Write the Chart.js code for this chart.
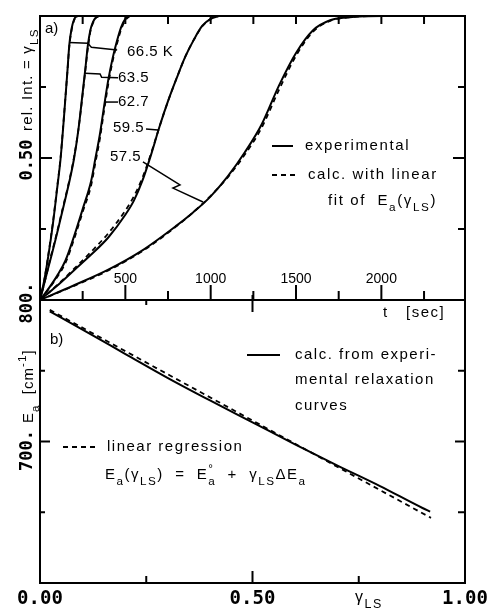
<!DOCTYPE html>
<html lang="en">
<head>
<meta charset="UTF-8">
<title>LS relaxation and activation energy</title>
<script src="https://cdn.jsdelivr.net/npm/chart.js"></script>
<style>
    body { margin: 0; background: #fff; }
    .wrap { position: relative; width: 490px; height: 614px; }
    .wrap canvas { position: absolute; left: 0; top: 0; }
</style>
</head>
<body>
<div class="wrap">
    <canvas id="relax" width="490" height="614"></canvas>
    <canvas id="energy" width="490" height="614"></canvas>
</div>
<script>
// a) relaxation curves, rel. intensity = gamma_LS vs time [sec]
const t665 = [0, 25, 50, 75, 100, 121, 140, 160, 172, 185, 198, 212, 230];
const v665 = [0, 0.07, 0.16, 0.265, 0.39, 0.5, 0.64, 0.80, 0.90, 0.955, 0.985, 0.998, 1.0];
const c665 = [0, 0.07, 0.165, 0.27, 0.395, 0.505, 0.645, 0.80, 0.895, 0.95, 0.982, 0.997, 1.0];

const t635 = [0, 30, 60, 90, 120, 150, 175, 200, 225, 250, 265, 280, 295, 310, 325, 345];
const v635 = [0, 0.07, 0.14, 0.21, 0.285, 0.36, 0.425, 0.5, 0.6, 0.73, 0.81, 0.895, 0.95, 0.978, 0.993, 1.0];
const c635 = [0, 0.07, 0.145, 0.215, 0.29, 0.365, 0.43, 0.505, 0.6, 0.725, 0.805, 0.885, 0.945, 0.975, 0.992, 1.0];

const t627 = [0, 50, 100, 150, 200, 250, 300, 325, 350, 375, 400, 425, 450, 475, 500, 525];
const v627 = [0, 0.04, 0.085, 0.14, 0.225, 0.32, 0.42, 0.5, 0.58, 0.68, 0.775, 0.85, 0.91, 0.96, 0.99, 1.0];
const c627 = [0, 0.038, 0.08, 0.132, 0.215, 0.31, 0.405, 0.485, 0.565, 0.665, 0.76, 0.84, 0.9, 0.952, 0.985, 1.0];

const t595 = [0, 100, 200, 300, 400, 500, 550, 600, 650, 700, 750, 800, 850, 900, 950, 1000, 1050];
const v595 = [0, 0.05, 0.105, 0.16, 0.22, 0.30, 0.35, 0.42, 0.51, 0.61, 0.70, 0.78, 0.855, 0.915, 0.965, 0.99, 1.0];
const c595 = [0, 0.052, 0.11, 0.17, 0.235, 0.315, 0.365, 0.43, 0.515, 0.61, 0.70, 0.78, 0.855, 0.915, 0.963, 0.99, 1.0];

const t575 = [0, 200, 400, 600, 800, 900, 1000, 1100, 1200, 1300, 1400, 1500, 1600, 1700, 1800, 1900, 2050];
const v575 = [0, 0.052, 0.107, 0.175, 0.262, 0.31, 0.365, 0.435, 0.52, 0.62, 0.755, 0.87, 0.95, 0.985, 0.995, 0.999, 1.0];
const c575 = [0, 0.05, 0.104, 0.172, 0.26, 0.31, 0.367, 0.432, 0.512, 0.608, 0.74, 0.86, 0.945, 0.983, 0.995, 0.999, 1.0];

const tempLabels = ['66.5 K', '63.5', '62.7', '59.5', '57.5'];
const tTicks = [250, 500, 750, 1000, 1250, 1500, 1750, 2000, 2250];
const tLabelValues = [500, 1000, 1500, 2000];
const vTicks = [0.25, 0.5, 0.75];

// b) activation energy E_a [cm^-1] vs gamma_LS
const gammaCalc = [0.023, 0.1, 0.2, 0.3, 0.4, 0.5, 0.6, 0.7, 0.8, 0.9, 0.918];
const eaCalc = [792, 779, 762, 745, 729, 713.5, 698, 683, 668.5, 653, 650.5];
const gammaFit = [0.023, 0.92];
const eaFit = [793, 646];

const gTicks = [0.25, 0.5, 0.75];
const gLabelValues = [0, 0.5, 1];
const gLabels = ['0.00', '0.50', '1.00'];
const eTicks = [650, 700, 750];
const eLabelValues = [800, 700];
const eLabels = ['800.', '700.'];

const SANS = '"Liberation Sans", Arial, sans-serif';
const MONO = '"DejaVu Sans Mono", monospace';

function pts(xs, ys) { return xs.map((x, i) => ({ x: x, y: ys[i] })); }

function line(xs, ys, dashed) {
    return {
        data: pts(xs, ys),
        showLine: true,
        borderColor: '#000',
        borderWidth: dashed ? 1.8 : 2,
        borderDash: dashed ? [5, 4] : [],
        pointRadius: 0,
        cubicInterpolationMode: 'monotone'
    };
}

// text with sub/superscripts: parts = [text, mode, noAdvance], mode 0 normal, 1 sub, 2 sup
function rich(ctx, parts, x, y, size) {
    let cx = x;
    parts.forEach(p => {
        const s = p[1] ? size * 0.78 : size;
        ctx.font = s + 'px ' + SANS;
        const dy = p[1] === 1 ? size * 0.42 : p[1] === 2 ? -size * 0.42 : 0;
        ctx.fillText(p[0], cx, y + dy);
        if (!p[2]) cx += ctx.measureText(p[0]).width;
    });
    return cx - x;
}

function rotated(ctx, x, y, fn) {
    ctx.save();
    ctx.translate(x, y);
    ctx.rotate(-Math.PI / 2);
    fn();
    ctx.restore();
}

function seg(ctx, x1, y1, x2, y2) {
    ctx.beginPath(); ctx.moveTo(x1, y1); ctx.lineTo(x2, y2); ctx.stroke();
}

function path(ctx, sx, sy, list) {
    ctx.beginPath();
    list.forEach((p, i) => {
        const px = sx.getPixelForValue(p[0]), py = sy.getPixelForValue(p[1]);
        if (i === 0) ctx.moveTo(px, py); else ctx.lineTo(px, py);
    });
    ctx.stroke();
}

const relaxDecor = {
    id: 'relaxDecor',
    afterDraw(chart) {
        const ctx = chart.ctx, a = chart.chartArea;
        const sx = chart.scales.x, sy = chart.scales.y;
        ctx.save();
        ctx.strokeStyle = '#000'; ctx.fillStyle = '#000'; ctx.lineWidth = 2;
        ctx.strokeRect(a.left, a.top, a.right - a.left, a.bottom - a.top);

        tTicks.forEach(t => {
            const x = sx.getPixelForValue(t);
            seg(ctx, x, a.bottom, x, a.bottom - (t % 500 ? 9 : 15));
            seg(ctx, x, a.top, x, a.top + 8);
        });
        vTicks.forEach(v => {
            const y = sy.getPixelForValue(v);
            const len = v === 0.5 ? 12 : 6;
            seg(ctx, a.left, y, a.left + len, y);
            seg(ctx, a.right, y, a.right - (v === 0.5 ? 12 : 7), y);
        });

        ctx.textAlign = 'center'; ctx.textBaseline = 'middle';
        ctx.font = '14px ' + SANS;
        tLabelValues.forEach(t => ctx.fillText(String(t), sx.getPixelForValue(t), a.bottom - 21));

        // y axis texts
        rotated(ctx, 28, sy.getPixelForValue(0.5) + 2, () => {
            ctx.font = 'bold 17px ' + MONO;
            ctx.textAlign = 'center';
            ctx.fillText('0.50', 0, 0);
        });
        rotated(ctx, 28, 131, () => {
            ctx.textAlign = 'left';
            ctx.letterSpacing = '1.2px';
            rich(ctx, [['rel. Int. = γ', 0], ['LS', 1]], 0, 0, 15);
            ctx.letterSpacing = '0px';
        });

        ctx.textAlign = 'left';
        ctx.font = '15px ' + SANS;
        ctx.fillText('a)', a.left + 5, a.top + 13);

        // temperature labels with leaders
        ctx.lineWidth = 1.5;
        path(ctx, sx, sy, [[170, 0.907], [281, 0.904], [293, 0.895], [301, 0.89], [452, 0.88]]);
        path(ctx, sx, sy, [[264, 0.798], [352, 0.796], [361, 0.784], [457, 0.783]]);
        path(ctx, sx, sy, [[381, 0.697], [457, 0.697]]);
        path(ctx, sx, sy, [[621, 0.602], [691, 0.599]]);
        path(ctx, sx, sy, [[603, 0.486], [820, 0.405], [779, 0.394], [955, 0.345]]);

        ctx.font = '15px ' + SANS;
        ctx.letterSpacing = '0.5px';
        ctx.fillText(tempLabels[0], 127, 52);
        ctx.fillText(tempLabels[1], 118, 78);
        ctx.fillText(tempLabels[2], 118, 102);
        ctx.fillText(tempLabels[3], 113, 128);
        ctx.fillText(tempLabels[4], 110, 157);

        // legend
        ctx.lineWidth = 2;
        seg(ctx, 272, 146, 293, 146);
        ctx.setLineDash([5, 4]);
        seg(ctx, 272, 175, 298, 175);
        ctx.setLineDash([]);
        ctx.letterSpacing = '1.6px';
        ctx.font = '15px ' + SANS;
        ctx.fillText('experimental', 305, 146);
        ctx.fillText('calc. with linear', 308, 175);
        rich(ctx, [['fit of  E', 0], ['a', 1], ['(γ', 0], ['LS', 1], [')', 0]], 328, 201, 15);
        ctx.letterSpacing = '0px';
        ctx.restore();
    }
};

const energyDecor = {
    id: 'energyDecor',
    afterDraw(chart) {
        const ctx = chart.ctx, a = chart.chartArea;
        const sx = chart.scales.x, sy = chart.scales.y;
        ctx.save();
        ctx.strokeStyle = '#000'; ctx.fillStyle = '#000'; ctx.lineWidth = 2;
        ctx.strokeRect(a.left, a.top, a.right - a.left, a.bottom - a.top);

        gTicks.forEach(g => {
            const x = sx.getPixelForValue(g);
            seg(ctx, x, a.bottom, x, a.bottom - (g === 0.5 ? 12 : 7));
        });
        seg(ctx, sx.getPixelForValue(0.25), a.top, sx.getPixelForValue(0.25), a.top + 5);
        seg(ctx, sx.getPixelForValue(0.5), a.top - 5, sx.getPixelForValue(0.5), a.top + 12);
        eTicks.forEach(e => {
            const y = sy.getPixelForValue(e);
            seg(ctx, a.left, y, a.left + (e === 700 ? 10 : 5), y);
            seg(ctx, a.right, y, a.right - (e === 700 ? 10 : 7), y);
        });

        ctx.textBaseline = 'middle'; ctx.textAlign = 'center';
        ctx.font = 'bold 19px ' + MONO;
        gLabelValues.forEach((g, i) => ctx.fillText(gLabels[i], sx.getPixelForValue(g), a.bottom + 16));

        rotated(ctx, 28, sy.getPixelForValue(eLabelValues[0]) + 3, () => {
            ctx.font = 'bold 17px ' + MONO; ctx.textAlign = 'center';
            ctx.fillText(eLabels[0], 0, 0);
        });
        rotated(ctx, 28, sy.getPixelForValue(eLabelValues[1]) + 9, () => {
            ctx.font = 'bold 17px ' + MONO; ctx.textAlign = 'center';
            ctx.fillText(eLabels[1], 0, 0);
        });
        rotated(ctx, 29, 423, () => {
            ctx.textAlign = 'left';
            ctx.letterSpacing = '1px';
            rich(ctx, [['E', 0], ['a', 1], ['  [cm', 0], ['-1', 2], [']', 0]], 0, 0, 15);
            ctx.letterSpacing = '0px';
        });

        ctx.textAlign = 'left';
        ctx.font = '15px ' + SANS;
        ctx.fillText('b)', a.left + 10, 340);

        // t [sec] label of panel a axis
        ctx.letterSpacing = '1.5px';
        ctx.fillText('t', 383, 313);
        ctx.fillText('[sec]', 406, 313);

        // legend
        seg(ctx, 247, 355, 280, 355);
        ctx.setLineDash([5, 4]);
        seg(ctx, 63, 447, 96, 447);
        ctx.setLineDash([]);
        ctx.fillText('calc. from experi-', 295, 355);
        ctx.fillText('mental relaxation', 295, 380);
        ctx.fillText('curves', 295, 406);
        ctx.fillText('linear regression', 107, 447);
        rich(ctx, [['E', 0], ['a', 1], ['(γ', 0], ['LS', 1], [')  =  E', 0], ['°', 2, true], ['a', 1],
                   ['  +  γ', 0], ['LS', 1], ['ΔE', 0], ['a', 1]], 105, 475, 15);
        rich(ctx, [['γ', 0], ['LS', 1]], 355, 598, 16);
        ctx.letterSpacing = '0px';
        ctx.restore();
    }
};

const common = {
    responsive: false,
    animation: false,
    devicePixelRatio: 1,
    plugins: { legend: { display: false }, tooltip: { enabled: false } }
};

new Chart(document.getElementById('relax'), {
    type: 'scatter',
    data: {
        datasets: [
            line(t665, c665, true), line(t635, c635, true), line(t627, c627, true),
            line(t595, c595, true), line(t575, c575, true),
            line(t665, v665, false), line(t635, v635, false), line(t627, v627, false),
            line(t595, v595, false), line(t575, v575, false)
        ]
    },
    options: Object.assign({}, common, {
        layout: { padding: { left: 40, top: 16, right: 25, bottom: 314 } },
        scales: {
            x: { type: 'linear', min: 0, max: 2490, display: false },
            y: { type: 'linear', min: 0, max: 1, display: false }
        }
    }),
    plugins: [relaxDecor]
});

new Chart(document.getElementById('energy'), {
    type: 'scatter',
    data: {
        datasets: [line(gammaFit, eaFit, true), line(gammaCalc, eaCalc, false)]
    },
    options: Object.assign({}, common, {
        layout: { padding: { left: 40, top: 300, right: 25, bottom: 31 } },
        scales: {
            x: { type: 'linear', min: 0, max: 1, display: false },
            y: { type: 'linear', min: 600, max: 800, display: false }
        }
    }),
    plugins: [energyDecor]
});
</script>
</body>
</html>
